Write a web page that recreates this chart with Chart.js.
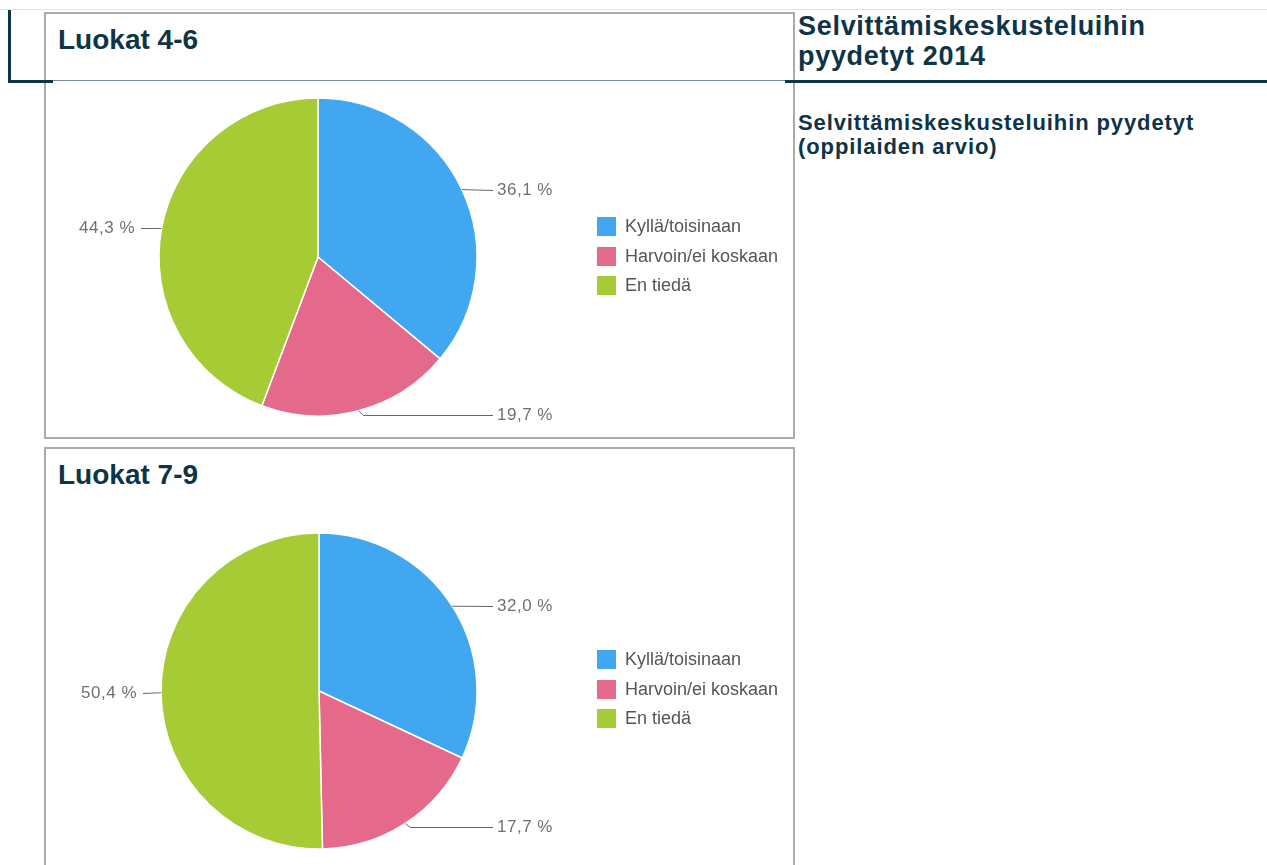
<!DOCTYPE html>
<html><head><meta charset="utf-8">
<script src="https://cdn.jsdelivr.net/npm/chart.js@4"></script>
<style>
body{margin:0;width:1267px;height:865px;overflow:hidden;background:#fff;position:relative;font-family:"Liberation Sans",Arial,sans-serif;}
.abs{position:absolute;}
.box{position:absolute;border:2px solid #ababab;box-sizing:border-box;background:#fff;}
.ttl{position:absolute;color:#0e3447;font-weight:bold;font-size:28px;line-height:32px;white-space:nowrap;}
.legend{position:absolute;left:597px;font-size:18px;color:#555;}
.legend .row{height:29.5px;display:flex;align-items:center;white-space:nowrap;}
.legend .sw{width:19px;height:19px;margin-right:9px;flex:none;}
canvas{position:absolute;}
</style></head><body>
<div class="abs" style="left:0;top:9px;width:1267px;height:1px;background:#e4e4e4"></div>
<div class="box" style="left:44px;top:12px;width:751px;height:427px"></div>
<div class="box" style="left:44px;top:447px;width:751px;height:430px"></div>
<div class="abs" style="left:8px;top:10px;width:2.5px;height:73px;background:#0e3447"></div>
<div class="abs" style="left:8px;top:80px;width:45px;height:3px;background:#0e3447"></div>
<div class="abs" style="left:53px;top:80px;width:735px;height:1px;background:#71899a"></div>
<div class="abs" style="left:785px;top:80px;width:482px;height:3px;background:#0e3447"></div>
<div class="ttl" id="t1" style="left:58px;top:24px"></div>
<div class="ttl" id="t2" style="left:58px;top:459px"></div>
<div class="ttl" id="mainTitle" style="left:798px;top:11px;font-size:27px;line-height:30px;letter-spacing:0.7px"></div>
<div class="ttl" id="subTitle" style="left:798px;top:111px;font-size:22px;line-height:24px;letter-spacing:0.9px"></div>
<canvas id="c1" width="746" height="352" style="left:46px;top:84px"></canvas>
<canvas id="c2" width="746" height="347" style="left:46px;top:518px"></canvas>
<div class="legend" id="l1" style="top:212px"></div>
<div class="legend" id="l2" style="top:645px"></div>
<script>
const categories = ['Kyllä/toisinaan', 'Harvoin/ei koskaan', 'En tiedä'];
const grades46 = [36.1, 19.7, 44.3];
const grades79 = [32.0, 17.7, 50.4];
const chartTitles = ['Luokat 4-6', 'Luokat 7-9'];
const mainTitleLines = ['Selvittämiskeskusteluihin', 'pyydetyt 2014'];
const subTitleLines = ['Selvittämiskeskusteluihin pyydetyt', '(oppilaiden arvio)'];
const colors = ['#41a7f1', '#e4698a', '#a7cb34'];

document.getElementById('t1').textContent = chartTitles[0];
document.getElementById('t2').textContent = chartTitles[1];
document.getElementById('mainTitle').innerHTML = mainTitleLines.join('<br>');
document.getElementById('subTitle').innerHTML = subTitleLines.join('<br>');

function fmt(v){ return v.toFixed(1).replace('.', ',') + ' %'; }

const leaderPlugin = {
  id: 'leaders',
  afterDatasetsDraw(chart){
    const ctx = chart.ctx;
    const meta = chart.getDatasetMeta(0);
    const data = chart.data.datasets[0].data;
    ctx.save();
    ctx.font = '17px "Liberation Sans", Arial, sans-serif';
    if ('letterSpacing' in ctx) ctx.letterSpacing = '0.5px';
    ctx.fillStyle = '#707070';
    ctx.strokeStyle = '#666';
    ctx.lineWidth = 1;
    meta.data.forEach((arc, i) => {
      const p = arc.getProps(['x','y','startAngle','endAngle','outerRadius'], true);
      const mid = (p.startAngle + p.endAngle) / 2;
      const ax = p.x + Math.cos(mid) * p.outerRadius;
      const ay = p.y + Math.sin(mid) * p.outerRadius;
      const right = Math.cos(mid) >= 0;
      const lower = Math.sin(mid) > 0.5;
      const ly = Math.round(ay + (lower ? 4 : 0)) + 0.5;
      const ex = right ? p.x + p.outerRadius + 16 : p.x - p.outerRadius - 18;
      ctx.beginPath();
      ctx.moveTo(ax, ay);
      if (lower) ctx.lineTo(ax + (right ? 5 : -5), ly);
      ctx.lineTo(ex, ly);
      ctx.stroke();
      ctx.textBaseline = 'middle';
      ctx.textAlign = right ? 'left' : 'right';
      ctx.fillText(fmt(data[i]), right ? ex + 4 : ex - 6, ly);
    });
    ctx.restore();
  }
};

function makePie(id, values, cx, cy, r){
  const canvas = document.getElementById(id);
  const bw = 1.5;
  const size = 2 * r + bw;
  const left = cx - size / 2, top = cy - size / 2;
  new Chart(canvas, {
    type: 'pie',
    data: { labels: categories, datasets: [{ data: values, backgroundColor: colors, borderColor: '#ffffff', borderWidth: bw }] },
    options: {
      responsive: false, animation: false,
      layout: { padding: { left: left, top: top, right: canvas.width - left - size, bottom: canvas.height - top - size } },
      plugins: { legend: { display: false }, tooltip: { enabled: false } }
    },
    plugins: [leaderPlugin]
  });
}
function makeLegend(id){
  const el = document.getElementById(id);
  categories.forEach((c, i) => {
    const row = document.createElement('div'); row.className = 'row';
    const sw = document.createElement('div'); sw.className = 'sw'; sw.style.background = colors[i];
    const tx = document.createElement('span'); tx.textContent = c;
    row.appendChild(sw); row.appendChild(tx); el.appendChild(row);
  });
}
makePie('c1', grades46, 272, 173, 159);
makePie('c2', grades79, 273, 173, 158);
makeLegend('l1');
makeLegend('l2');
</script>
</body></html>
